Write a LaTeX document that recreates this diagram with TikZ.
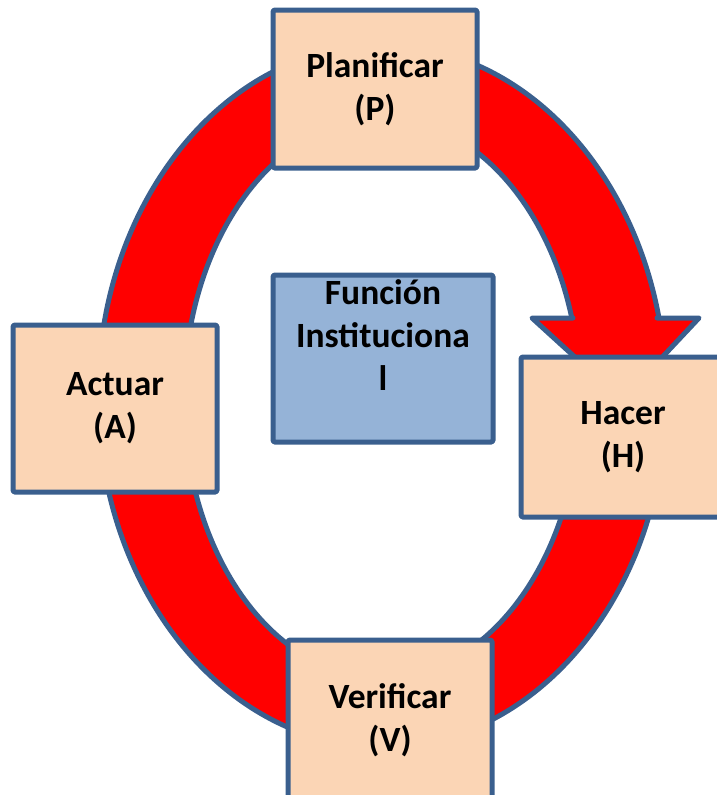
\documentclass[tikz,border=0pt]{standalone}
\usepackage{fontspec}
\setmainfont{Carlito}
\usetikzlibrary{positioning}
\definecolor{bordeazul}{HTML}{3A5F8E}
\definecolor{melocoton}{HTML}{FBD5B5}
\definecolor{azulcaja}{HTML}{95B3D7}
\tikzset{
  borde/.style={draw=bordeazul, line width=5pt},
  texto/.style={align=center, inner sep=0pt, font=\fontsize{35.5}{43}\selectfont\bfseries},
  caja/.style={borde, texto, fill=melocoton, rounded corners=1.5pt, minimum width=204pt},
}
\begin{document}
\begin{tikzpicture}[x=1pt, y=-1pt, line join=round, line cap=round]
		\def\cx{382}\def\cy{396}\def\ra{284}\def\rb{351}
		\def\iy{398}\def\ia{198}\def\ib{280}
		\useasboundingbox (0,0) rectangle (717,795);
		\clip (0,0) rectangle (717,795);
		% anillo
		\fill[red, even odd rule] (\cx,\cy) ellipse [x radius=\ra, y radius=\rb] (\cx,\iy) ellipse [x radius=\ia, y radius=\ib];
		\draw[borde] (\cx,\cy) ellipse [x radius=\ra, y radius=\rb];
		\draw[borde] (\cx,\iy) ellipse [x radius=\ia, y radius=\ib];
		% punta de la flecha
		\coordinate (barbaizq) at (532,318);
		\coordinate (barbader) at (699,318);
		\coordinate (punta) at (622,400);
		\fill[red] (barbaizq) -- (punta) -- (barbader) -- cycle;
		\draw[borde] (573,318) -- (barbaizq) -- (punta) -- (barbader) -- (657,318);
		% cajas
		\node[caja, minimum height=158pt] (planificar) at (375,89) {Planificar\\(P)};
		\node[caja, minimum height=167pt] (actuar) at (115,408.5) {Actuar\\(A)};
		\node[caja, minimum height=160pt] (hacer) at (623,437) {Hacer\\(H)};
		\node[caja, minimum height=160pt] (verificar) at (390,720) {Verificar\\(V)};
		\node[caja, fill=azulcaja, minimum width=220pt, minimum height=167pt] (funcion) at (383,358.5) {};
		\node[texto, below=7pt of funcion.north] (funciontexto) {Función\\Instituciona\\l};
\end{tikzpicture}
\end{document}
